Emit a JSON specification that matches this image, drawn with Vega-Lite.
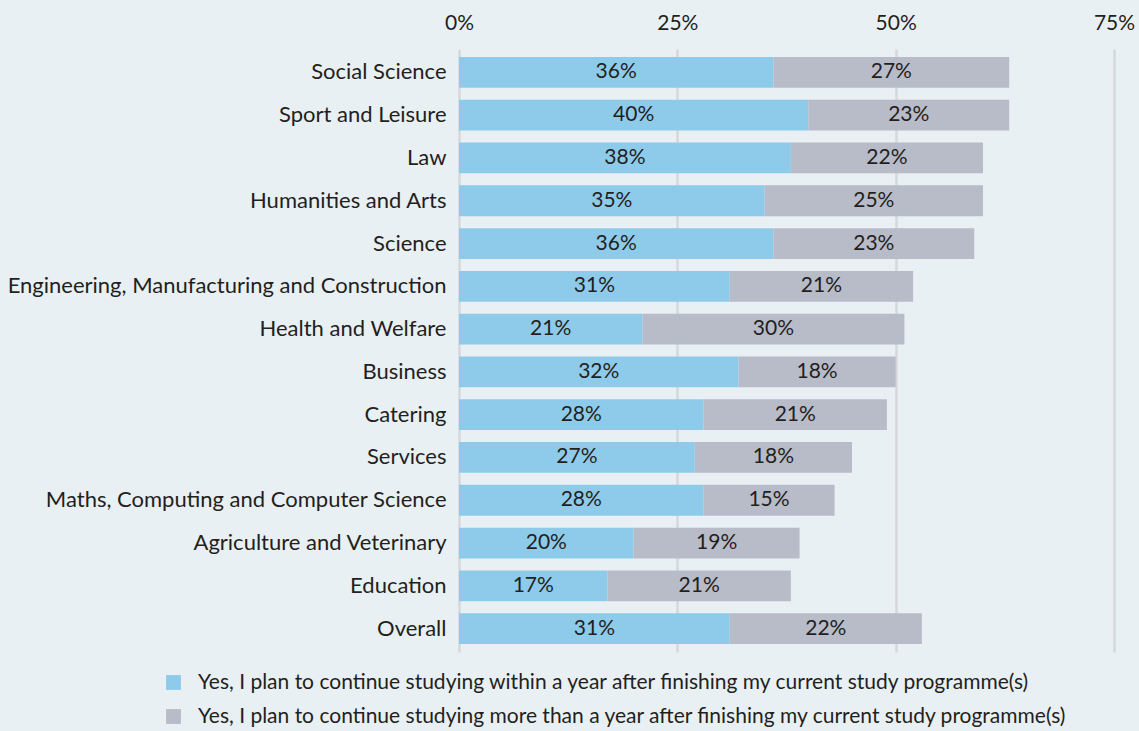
{
  "$schema": "https://vega.github.io/schema/vega-lite/v6.json",
  "width": 655,
  "height": 603,
  "autosize": {"type": "none"},
  "padding": {"left": 459, "top": 49, "right": 25, "bottom": 79},
  "background": "#e9f0f3",
  "config": {
    "view": {"stroke": null},
    "font": "Lato",
    "axis": {"labelFont": "Lato", "labelColor": "#231f20"},
    "legend": {"labelFont": "Lato", "labelColor": "#231f20"}
  },
  "data": {
    "values": [
      {"subject": "Social Science", "series": "Yes, I plan to continue studying within a year after finishing my current study programme(s)", "k": 1, "value": 36},
      {"subject": "Social Science", "series": "Yes, I plan to continue studying more than a year after finishing my current study programme(s)", "k": 2, "value": 27},
      {"subject": "Sport and Leisure", "series": "Yes, I plan to continue studying within a year after finishing my current study programme(s)", "k": 1, "value": 40},
      {"subject": "Sport and Leisure", "series": "Yes, I plan to continue studying more than a year after finishing my current study programme(s)", "k": 2, "value": 23},
      {"subject": "Law", "series": "Yes, I plan to continue studying within a year after finishing my current study programme(s)", "k": 1, "value": 38},
      {"subject": "Law", "series": "Yes, I plan to continue studying more than a year after finishing my current study programme(s)", "k": 2, "value": 22},
      {"subject": "Humanities and Arts", "series": "Yes, I plan to continue studying within a year after finishing my current study programme(s)", "k": 1, "value": 35},
      {"subject": "Humanities and Arts", "series": "Yes, I plan to continue studying more than a year after finishing my current study programme(s)", "k": 2, "value": 25},
      {"subject": "Science", "series": "Yes, I plan to continue studying within a year after finishing my current study programme(s)", "k": 1, "value": 36},
      {"subject": "Science", "series": "Yes, I plan to continue studying more than a year after finishing my current study programme(s)", "k": 2, "value": 23},
      {"subject": "Engineering, Manufacturing and Construction", "series": "Yes, I plan to continue studying within a year after finishing my current study programme(s)", "k": 1, "value": 31},
      {"subject": "Engineering, Manufacturing and Construction", "series": "Yes, I plan to continue studying more than a year after finishing my current study programme(s)", "k": 2, "value": 21},
      {"subject": "Health and Welfare", "series": "Yes, I plan to continue studying within a year after finishing my current study programme(s)", "k": 1, "value": 21},
      {"subject": "Health and Welfare", "series": "Yes, I plan to continue studying more than a year after finishing my current study programme(s)", "k": 2, "value": 30},
      {"subject": "Business", "series": "Yes, I plan to continue studying within a year after finishing my current study programme(s)", "k": 1, "value": 32},
      {"subject": "Business", "series": "Yes, I plan to continue studying more than a year after finishing my current study programme(s)", "k": 2, "value": 18},
      {"subject": "Catering", "series": "Yes, I plan to continue studying within a year after finishing my current study programme(s)", "k": 1, "value": 28},
      {"subject": "Catering", "series": "Yes, I plan to continue studying more than a year after finishing my current study programme(s)", "k": 2, "value": 21},
      {"subject": "Services", "series": "Yes, I plan to continue studying within a year after finishing my current study programme(s)", "k": 1, "value": 27},
      {"subject": "Services", "series": "Yes, I plan to continue studying more than a year after finishing my current study programme(s)", "k": 2, "value": 18},
      {"subject": "Maths, Computing and Computer Science", "series": "Yes, I plan to continue studying within a year after finishing my current study programme(s)", "k": 1, "value": 28},
      {"subject": "Maths, Computing and Computer Science", "series": "Yes, I plan to continue studying more than a year after finishing my current study programme(s)", "k": 2, "value": 15},
      {"subject": "Agriculture and Veterinary", "series": "Yes, I plan to continue studying within a year after finishing my current study programme(s)", "k": 1, "value": 20},
      {"subject": "Agriculture and Veterinary", "series": "Yes, I plan to continue studying more than a year after finishing my current study programme(s)", "k": 2, "value": 19},
      {"subject": "Education", "series": "Yes, I plan to continue studying within a year after finishing my current study programme(s)", "k": 1, "value": 17},
      {"subject": "Education", "series": "Yes, I plan to continue studying more than a year after finishing my current study programme(s)", "k": 2, "value": 21},
      {"subject": "Overall", "series": "Yes, I plan to continue studying within a year after finishing my current study programme(s)", "k": 1, "value": 31},
      {"subject": "Overall", "series": "Yes, I plan to continue studying more than a year after finishing my current study programme(s)", "k": 2, "value": 22}
    ]
  },
  "transform": [
    {"stack": "value", "groupby": ["subject"], "sort": [{"field": "k", "order": "ascending"}], "as": ["x0", "x1"]},
    {"calculate": "(datum.x0 + datum.x1) / 2", "as": "xmid"},
    {"calculate": "datum.value + '%'", "as": "label"}
  ],
  "encoding": {
    "y": {
      "field": "subject",
      "type": "nominal",
      "sort": null,
      "title": null,
      "scale": {"paddingInner": 0.28, "paddingOuter": 0.187},
      "axis": {"domain": false, "ticks": false, "labelFontSize": 22, "labelPadding": 13, "labelLimit": 460}
    }
  },
  "layer": [
    {
      "mark": {"type": "bar"},
      "encoding": {
        "x": {
          "field": "x0",
          "type": "quantitative",
          "title": null,
          "scale": {"domain": [0, 75], "nice": false},
          "axis": {
            "orient": "top",
            "values": [0, 25, 50, 75],
            "labelExpr": "datum.value + '%'",
            "labelFlush": false,
            "domain": false,
            "ticks": false,
            "labelFontSize": 21,
            "labelPadding": 16,
            "grid": true,
            "gridColor": "#d6d9db",
            "gridWidth": 2.5
          }
        },
        "x2": {"field": "x1"},
        "color": {
          "field": "series",
          "type": "nominal",
          "sort": null,
          "scale": {
            "domain": [
              "Yes, I plan to continue studying within a year after finishing my current study programme(s)",
              "Yes, I plan to continue studying more than a year after finishing my current study programme(s)"
            ],
            "range": ["#8ecbeb", "#b8bbc8"]
          },
          "legend": {
            "title": null,
            "orient": "none",
            "direction": "vertical",
            "legendX": -296,
            "legendY": 623,
            "symbolType": "square",
            "symbolSize": 220,
            "symbolStrokeWidth": 0,
            "labelFontSize": 21,
            "labelLimit": 1000,
            "labelOffset": 14,
            "rowPadding": 12
          }
        }
      }
    },
    {
      "mark": {"type": "text", "fontSize": 21, "color": "#231f20"},
      "encoding": {
        "x": {"field": "xmid", "type": "quantitative"},
        "text": {"field": "label", "type": "nominal"},
        "detail": {"field": "series"}
      }
    }
  ]
}
